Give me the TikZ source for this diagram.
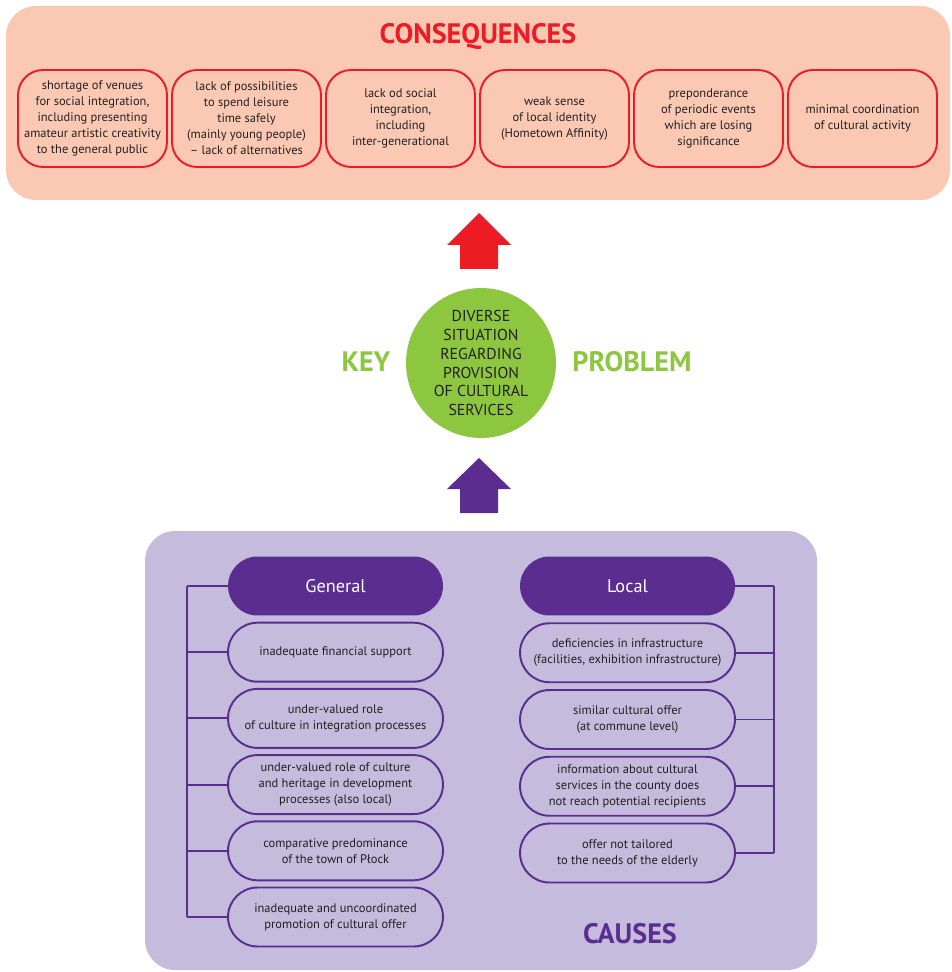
\documentclass[tikz,border=0pt]{standalone}
\usepackage{fontspec}
\setmainfont{PT Sans}
\definecolor{conred}{HTML}{ED1C24}
\definecolor{conbg}{HTML}{FBC9B3}
\definecolor{kgreen}{HTML}{8DC63F}
\definecolor{cpurple}{HTML}{5C2D91}
\definecolor{causebg}{HTML}{C5BBDC}
\definecolor{txt}{HTML}{231F20}
\tikzset{
	conbox/.style={draw=conred, line width=1.1pt, rounded corners=0.5cm,
		minimum width=2.98cm, minimum height=1.94cm, align=center, inner sep=1pt,
		text=txt, font=\fontsize{7.1}{9.1}\selectfont},
	headbox/.style={fill=cpurple, rounded corners=0.59cm, minimum width=4.3cm,
		minimum height=1.18cm, text=white, font=\fontsize{10.4}{12}\selectfont},
	causebox/.style={draw=cpurple, line width=1.1pt, rounded corners=0.59cm,
		minimum width=4.3cm, minimum height=1.18cm, align=center, inner sep=1pt,
		text=txt, font=\fontsize{7.1}{9.1}\selectfont},
	bracket/.style={draw=cpurple, line width=1.1pt},
	bigtitle/.style={font=\bfseries\fontsize{16}{18}\selectfont}
}
\begin{document}
\begin{tikzpicture}[x=0.02cm, y=-0.02cm, line join=round]
	\useasboundingbox (0,0) rectangle (951,972);
	% backgrounds
	\fill[conbg, rounded corners=0.6cm] (6,6) rectangle (950,200);
	\fill[causebg, rounded corners=0.6cm] (145,531) rectangle (817,970);
	\path
	(187,0) coordinate (bl)
	(774,0) coordinate (br);
	% consequences
	\node[bigtitle, text=conred] (contitle) at (478,36) {CONSEQUENCES};
	\foreach \t [count=\i] in {{shortage of venues\\for social integration,\\including presenting\\amateur artistic creativity\\to the general public},
		{lack of possibilities\\to spend leisure\\time safely\\(mainly young people)\\-- lack of alternatives},
		{lack od social\\integration,\\including\\inter-generational},
		{weak sense\\of local identity\\(Hometown Affinity)},
		{preponderance\\of periodic events\\which are losing\\significance},
		{minimal coordination\\of cultural activity}}
	\node[conbox] (con\i) at ({92.5+154*(\i-1)},118.5) {\t};
	% key problem
	\node[circle, fill=kgreen, minimum size=3cm, align=center, inner sep=0pt,
	text=txt, font=\fontsize{9}{10.8}\selectfont] (key) at (481,363)
	{DIVERSE\\SITUATION\\REGARDING\\PROVISION\\OF CULTURAL\\SERVICES};
	\node[bigtitle, text=kgreen] (keyl) at (366,362) {KEY};
	\node[bigtitle, text=kgreen] (keyr) at (632,362) {PROBLEM};
	\fill[conred] (460,269) -- (460,245) -- (447,245) -- (479,213) -- (511,245)
	-- (498,245) -- (498,269) -- cycle;
	\fill[cpurple] (460,513) -- (460,489) -- (447,489) -- (479,458) -- (511,489)
	-- (498,489) -- (498,513) -- cycle;
	% causes
	\node[headbox] (gen0) at (335.5,586) {General};
	\node[headbox] (loc0) at (627.5,586) {Local};
	\foreach \t [count=\i] in {{inadequate financial support},
		{under-valued role\\of culture in integration processes},
		{under-valued role of culture\\and heritage in development\\processes (also local)},
		{comparative predominance\\of the town of Płock},
		{inadequate and uncoordinated\\promotion of cultural offer}}
	\node[causebox] (gen\i) at (335.5,{586+66.2*\i}) {\t};
	\foreach \t [count=\i] in {{deficiencies in infrastructure\\(facilities, exhibition infrastructure)},
		{similar cultural offer\\(at commune level)},
		{information about cultural\\services in the county does\\not reach potential recipients},
		{offer not tailored\\to the needs of the elderly}}
	\node[causebox] (loc\i) at (627.5,{586+66.75*\i}) {\t};
	\foreach \i in {0,...,5}
	\draw[bracket] (gen\i.west) -- (gen\i.west -| bl);
	\draw[bracket] (gen0.west -| bl) -- (gen5.west -| bl);
	\foreach \i in {0,...,4}
	\draw[bracket] (loc\i.east) -- (loc\i.east -| br);
	\draw[bracket] (loc0.east -| br) -- (loc4.east -| br);
	\node[bigtitle, text=cpurple] (causes) at (630,934) {CAUSES};
\end{tikzpicture}
\end{document}
